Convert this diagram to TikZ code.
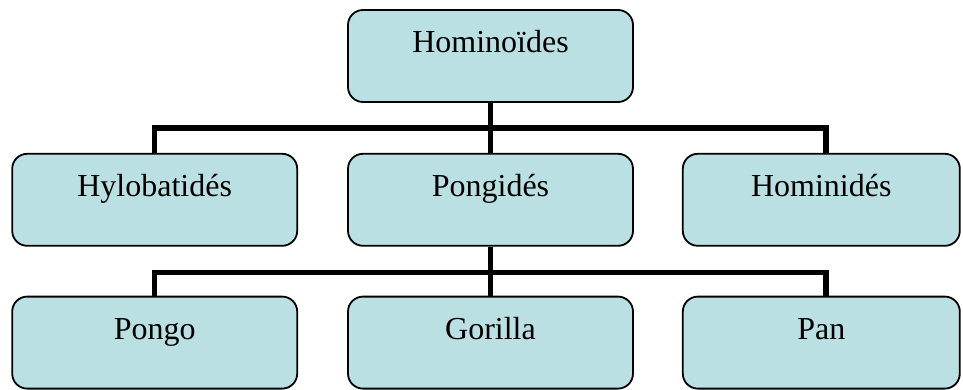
\documentclass[tikz,border=0pt]{standalone}
\usepackage{fontspec}
\setmainfont{Liberation Serif}
\usetikzlibrary{positioning}
\definecolor{boxfill}{RGB}{187,224,227}

\begin{document}
\begin{tikzpicture}[
    x=1pt, y=-1pt, node distance=49pt,
    taxon/.style={draw, line width=1.8pt, rounded corners=15pt, fill=boxfill,
        minimum width=285pt, minimum height=92pt, inner ysep=3pt,
        text height=40pt, text depth=46pt, font=\fontsize{32}{38}\selectfont},
    branch/.style={draw, line width=5.5pt}
]
    \useasboundingbox (0,0) rectangle (963,390);

    % superfamily
    \node[taxon]                                    (top)      at (490.5,56) {Hominoïdes};

    % families
    \node[taxon, below=50pt of top]                 (pongides) {Pongidés};
    \node[taxon, left=of pongides]                  (hylo)     {Hylobatidés};
    \node[taxon, right=48pt of pongides, minimum width=277pt] (homini) {Hominidés};

    % genera
    \node[taxon, below=of pongides]                 (gorilla)  {Gorilla};
    \node[taxon, left=of gorilla]                   (pongo)    {Pongo};
    \node[taxon, right=48pt of gorilla, minimum width=277pt]  (pan)    {Pan};

    % branches
    \coordinate (bar1) at (0,128);
    \coordinate (bar2) at (0,272.5);
    \draw[branch] (top.south) -- (top.south |- bar1);
    \draw[branch] (hylo.north) |- ([xshift=4.5pt]homini.north |- bar1) -- ([xshift=4.5pt]homini.north);
    \draw[branch] (top.south |- bar1) -- (pongides.north);
    \draw[branch] (pongides.south) -- (gorilla.north);
    \draw[branch] (pongo.north) |- ([xshift=4.5pt]pan.north |- bar2) -- ([xshift=4.5pt]pan.north);
\end{tikzpicture}
\end{document}
